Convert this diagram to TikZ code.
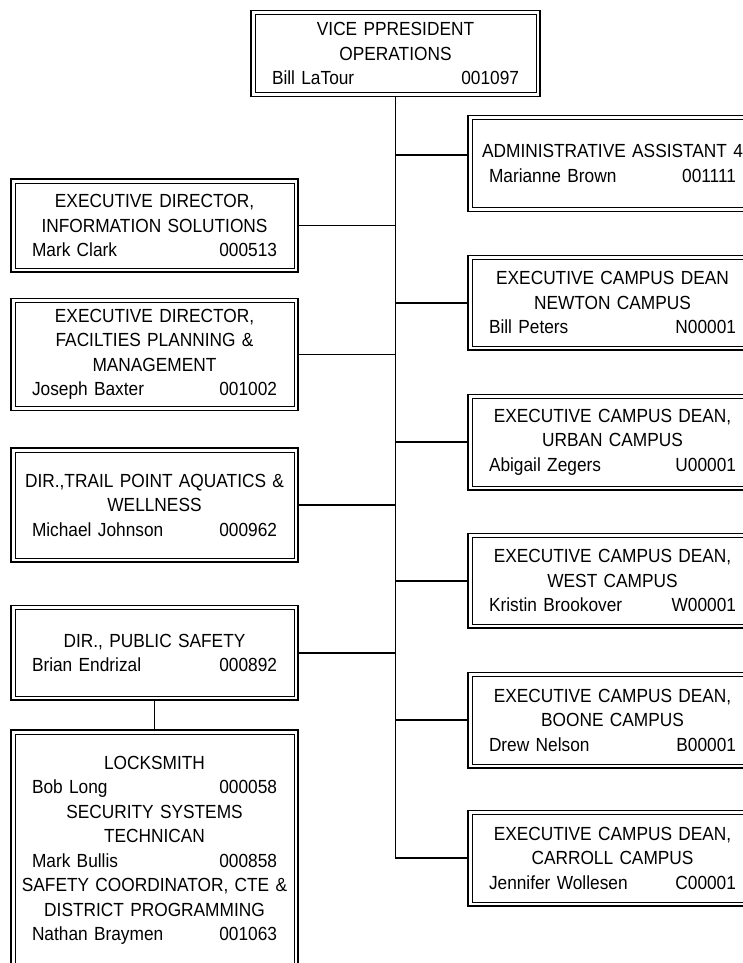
\documentclass[tikz,border=0pt]{standalone}
\usepackage{fontspec}
\newfontfamily\orgfam{Liberation Sans}[FakeStretch=0.91]
\newcommand\orgfont{\orgfam\fontsize{19}{24.5}\selectfont}
\newcommand\nameline[2]{\makebox[\linewidth]{#1\hfill#2}}
\newcommand\wideline[1]{\makebox[\linewidth]{#1}}
\tikzset{
  obox/.style={draw, line width=1.8pt, rectangle, inner sep=0pt, outer sep=0pt,
    align=center, font=\orgfont,
    path picture={\draw[line width=1pt]
      ([shift={(4pt,4pt)}]path picture bounding box.south west) rectangle
      ([shift={(-4pt,-4pt)}]path picture bounding box.north east);}},
  lcol/.style={obox, minimum width=287pt, text width=245pt},
  rcol/.style={obox, minimum width=289pt, text width=247pt},
  link/.style={line width=1.8pt},
}
\begin{document}
\begin{tikzpicture}[x=1pt,y=-1pt]
\useasboundingbox (0,0) rectangle (743,963);
\clip (0,0) rectangle (743,963);
\fill[white] (0,0) rectangle (743,963);

\node[rcol, minimum height=86pt] (vp) at (395.5,53.5)
  {VICE PPRESIDENT\\OPERATIONS\\\nameline{Bill LaTour}{001097}};

% left column
\node[lcol, minimum height=93pt] (info) at (154.5,225.5)
  {EXECUTIVE DIRECTOR,\\INFORMATION SOLUTIONS\\\nameline{Mark Clark}{000513}};
\node[lcol, minimum height=112pt] (fac) at (154.5,354.5)
  {EXECUTIVE DIRECTOR,\\FACILTIES PLANNING \&\\MANAGEMENT\\\nameline{Joseph Baxter}{001002}};
\node[lcol, minimum height=114pt] (trail) at (154.5,505)
  {\wideline{DIR.,TRAIL POINT AQUATICS \&}\\WELLNESS\\\nameline{Michael Johnson}{000962}};
\node[lcol, minimum height=94.5pt] (ps) at (154.5,652.75)
  {DIR., PUBLIC SAFETY\\\nameline{Brian Endrizal}{000892}};
\node[lcol, minimum height=240pt] (lock) at (154.5,850.25)
  {LOCKSMITH\\\nameline{Bob Long}{000058}\\SECURITY SYSTEMS\\TECHNICAN\\
   \nameline{Mark Bullis}{000858}\\\wideline{SAFETY COORDINATOR, CTE \&}\\
   DISTRICT PROGRAMMING\\\nameline{Nathan Braymen}{001063}};

% right column
\node[rcol, minimum height=96pt] (admin) at (612.5,163.5)
  {\wideline{ADMINISTRATIVE ASSISTANT 4}\\\nameline{Marianne Brown}{001111}};
\node[rcol, minimum height=94.5pt] (newton) at (612.5,302.75)
  {EXECUTIVE CAMPUS DEAN\\NEWTON CAMPUS\\\nameline{Bill Peters}{N00001}};
\node[rcol, minimum height=95.5pt] (urban) at (612.5,442.25)
  {EXECUTIVE CAMPUS DEAN,\\URBAN CAMPUS\\\nameline{Abigail Zegers}{U00001}};
\node[rcol, minimum height=94.5pt] (west) at (612.5,580.75)
  {EXECUTIVE CAMPUS DEAN,\\WEST CAMPUS\\\nameline{Kristin Brookover}{W00001}};
\node[rcol, minimum height=95.5pt] (boone) at (612.5,720.25)
  {EXECUTIVE CAMPUS DEAN,\\BOONE CAMPUS\\\nameline{Drew Nelson}{B00001}};
\node[rcol, minimum height=95.5pt] (carroll) at (612.5,858.25)
  {EXECUTIVE CAMPUS DEAN,\\CARROLL CAMPUS\\\nameline{Jennifer Wollesen}{C00001}};

% connectors
\coordinate (adminin) at ([yshift=8.5pt]admin.west);
\draw[link] (vp.south) |- (carroll.west);
\draw[link] (vp.south |- adminin) -- (adminin);
\foreach \n in {newton,urban,west,boone}
  \draw[link] (vp.south |- \n.west) -- (\n.west);
\foreach \n in {info,fac,trail,ps}
  \draw[link] (\n.east) -- (vp.south |- \n.east);
\draw[link] (ps.south) -- (lock.north);
\end{tikzpicture}
\end{document}
